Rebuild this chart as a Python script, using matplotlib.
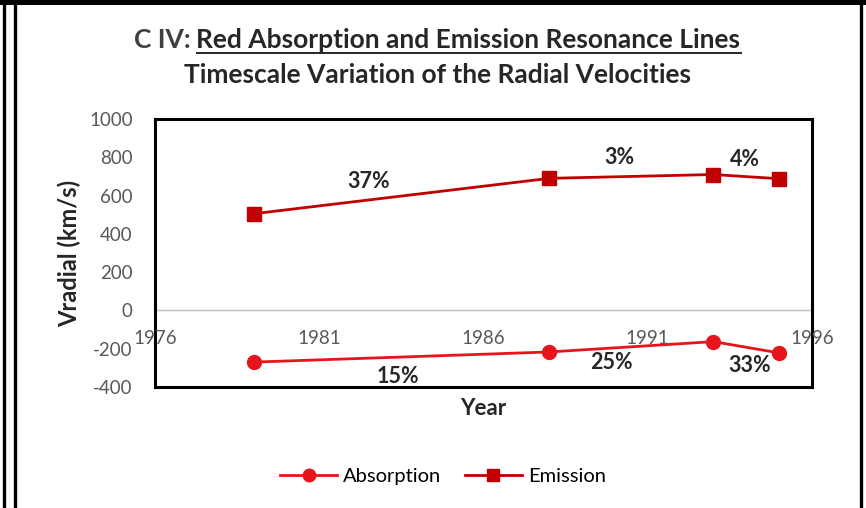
import matplotlib.pyplot as plt
from matplotlib.lines import Line2D

plt.rcParams['font.family'] = ['Lato', 'DejaVu Sans']

# data
years = [1979, 1988, 1993, 1995]
absorption = [-270, -217, -163, -222]
emission = [505, 690, 710, 688]

year_ticks = [1976, 1981, 1986, 1991, 1996]
y_ticks = [-400, -200, 0, 200, 400, 600, 800, 1000]

# percent change labels (text, x, y)
pct_labels = ['37%', '3%', '4%', '15%', '25%', '33%']
pct_x = [1982.5, 1990.15, 1993.95, 1983.4, 1989.9, 1994.1]
pct_y = [673, 800, 791, -343, -270, -286]

abs_color = '#E8141B'
emi_color = '#C00000'
tick_color = '#595959'
txt_color = '#262626'

fig = plt.figure(figsize=(8.66, 5.08), dpi=100)
W, H = 866, 508

# outer frame
fig.add_artist(plt.Rectangle((0, 1 - 4.5 / H), 1, 4.5 / H, transform=fig.transFigure,
                             color='black', lw=0))
for xl in [3.5, 14.5, 860.5]:
    fig.add_artist(Line2D([xl / W, xl / W], [0, 1], transform=fig.transFigure,
                          color='black', lw=2.4))

ax = fig.add_axes([155 / W, 1 - 387 / H, (812 - 155) / W, (387 - 119) / H])
ax.set_xlim(1976, 1996)
ax.set_ylim(-400, 1000)

ax.axhline(0, color='#BFBFBF', lw=1, zorder=1)

ax.plot(years, absorption, color=abs_color, lw=2, marker='o', ms=10,
        label='Absorption', zorder=3)
ax.plot(years, emission, color=emi_color, lw=2, marker='s', ms=10,
        label='Emission', zorder=3)

for s in ax.spines.values():
    s.set_color('black')
    s.set_linewidth(2.2)

ax.set_yticks(y_ticks)
ax.set_yticklabels([str(v) for v in y_ticks])
ax.tick_params(axis='y', length=0, pad=16, labelsize=13.5, labelcolor=tick_color)
ax.set_xticks([])

# year labels sit just under the zero line, like Excel
for yr in year_ticks:
    ax.annotate(str(yr), (yr, 0), xytext=(0, -14), textcoords='offset points',
                ha='center', va='top', fontsize=13.5, color=tick_color,
                annotation_clip=False)

for t, x, y in zip(pct_labels, pct_x, pct_y):
    ax.text(x, y, t, ha='center', va='center', fontsize=15.5, fontweight='bold',
            color=txt_color)

ax.set_ylabel('Vradial (km/s)', fontsize=17, fontweight='bold', color=txt_color,
              labelpad=6)
ax.set_xlabel('Year', fontsize=16, fontweight='bold', color=txt_color, labelpad=8)

# title, second part underlined
t1 = fig.text(0, 1 - 40 / H, 'C IV: ', ha='left', va='center', fontsize=19,
              fontweight='bold', color='#404040')
t2 = fig.text(0, 1 - 40 / H, 'Red Absorption and Emission Resonance Lines',
              ha='left', va='center', fontsize=19, fontweight='bold', color=txt_color)
fig.text(437 / W, 1 - 75 / H, 'Timescale Variation of the Radial Velocities',
         ha='center', va='center', fontsize=19, fontweight='bold', color=txt_color)

fig.canvas.draw()
w1 = t1.get_window_extent().width
w2 = t2.get_window_extent().width
x0 = 437 - (w1 + w2) / 2
t1.set_x(x0 / W)
t2.set_x((x0 + w1) / W)
fig.canvas.draw()
bb = t2.get_window_extent()
uy = bb.y0 - 1
fig.add_artist(Line2D([bb.x0 / W, bb.x1 / W], [uy / H, uy / H],
                      transform=fig.transFigure, color=txt_color, lw=1.4))

leg = fig.legend(loc='center', bbox_to_anchor=(443 / W, 1 - 476 / H), ncol=2,
                 frameon=False, fontsize=14.5, handlelength=2.8, columnspacing=1.2,
                 handletextpad=0.3, markerscale=0.9)

fig.savefig('out.png', dpi=100, facecolor='white')
